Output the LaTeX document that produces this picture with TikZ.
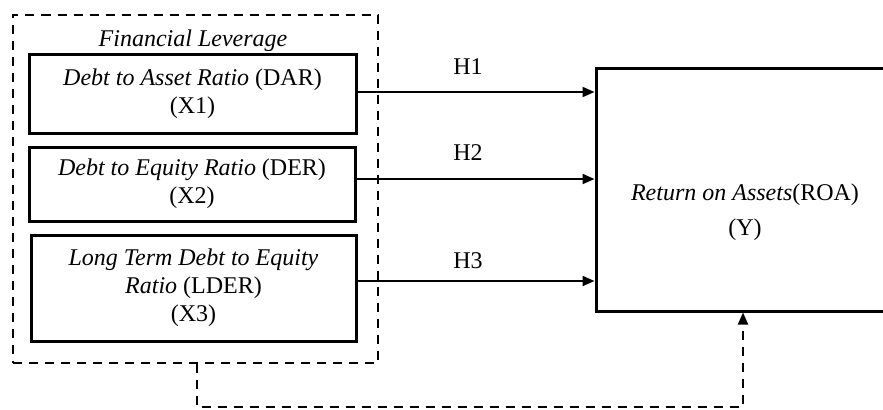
\documentclass[tikz,border=0pt]{standalone}
\usepackage{fontspec}
\setmainfont{Liberation Serif}
\usetikzlibrary{arrows.meta}

\begin{document}
\begin{tikzpicture}[x=0.5pt,y=-0.5pt,
	font=\fontsize{12}{14}\selectfont,
	varbox/.style={draw,line width=1.5pt,align=center,inner sep=0pt},
	groupbox/.style={draw,line width=1pt,dash pattern=on 4.5pt off 3.5pt},
	link/.style={line width=1pt,-{Triangle[length=6pt,width=5pt]}},
	feedback/.style={link,dash pattern=on 4.5pt off 3.5pt}]
	\useasboundingbox (0,0) rectangle (883,409);

	\node[groupbox,minimum width=182.5pt,minimum height=174pt] (fl) at (195,189) {};
	\node (fltitle) at (193,41) {\itshape Financial Leverage};

	\node[varbox,minimum width=163.5pt,minimum height=39.5pt] (dar) at (192.5,93.5) {\textit{Debt to Asset Ratio} (DAR)\\(X1)};
	\node[varbox,minimum width=163pt,minimum height=37pt] (der) at (192,184) {\textit{Debt to Equity Ratio} (DER)\\(X2)};
	\node[varbox,minimum width=162.5pt,minimum height=53pt] (lder) at (193.5,288) {\textit{Long Term Debt to Equity}\\\textit{Ratio} (LDER)\\(X3)};

	\node[varbox,minimum width=149pt,minimum height=121.5pt] (roa) at (745,189.5) {};
	\node[align=center] (roatext) at (745,212) {\textit{Return on Assets}(ROA)\\[3.5pt](Y)};

	\draw[link] ([yshift=0.75pt]dar.east) -- ([yshift=0.75pt]dar.east -| roa.west);
	\draw[link] ([yshift=2.5pt]der.east) -- ([yshift=2.5pt]der.east -| roa.west);
	\draw[link] ([yshift=3.5pt]lder.east) -- ([yshift=3.5pt]lder.east -| roa.west);

	\node (h1) at (468,67) {H1};
	\node (h2) at (468,153) {H2};
	\node (h3) at (468,261) {H3};

	\coordinate (bend) at (743,407);
	\draw[feedback] ([xshift=1pt]fl.south) |- (bend) -- (bend |- roa.south);

\end{tikzpicture}
\end{document}
